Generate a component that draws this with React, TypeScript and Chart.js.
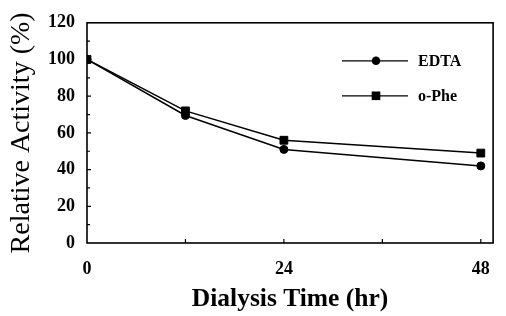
import { useEffect, useRef } from "react";
import { Chart, registerables } from "chart.js";

Chart.register(...registerables);

const times = [0, 12, 24, 48];
const edtaValues = [100, 69.5, 51, 42];
const opheValues = [100, 72, 56, 49];
const seriesLabels = ["EDTA", "o-Phe"];
const xTickValues = [0, 24, 48];
const xMarkValues = [12, 24, 36, 48];
const yTickValues = [0, 20, 40, 60, 80, 100, 120];
const yMarkValues = [10, 20, 30, 40, 50, 60, 70, 80, 90, 100, 110];
const xTitle = "Dialysis Time (hr)";
const yTitle = "Relative Activity (%)";

const FONT = "'Liberation Serif', 'Times New Roman', serif";

function drawMarker(ctx: CanvasRenderingContext2D, style: string, x: number, y: number) {
  ctx.save();
  ctx.fillStyle = "#000";
  if (style === "circle") {
    ctx.beginPath();
    ctx.arc(x, y, 4.3, 0, Math.PI * 2);
    ctx.fill();
  } else {
    ctx.fillRect(x - 4.3, y - 4.3, 8.6, 8.6);
  }
  ctx.restore();
}

const framePlugin = {
  id: "frame",
  afterDatasetsDraw(chart: any) {
    const { ctx, chartArea: ca, scales } = chart;
    const xs = scales.x;
    const ys = scales.y;
    ctx.save();
    ctx.strokeStyle = "#000";
    ctx.lineWidth = 1.6;
    ctx.strokeRect(ca.left, ca.top, ca.right - ca.left, ca.bottom - ca.top);
    ctx.lineWidth = 1.2;
    ctx.beginPath();
    for (const v of yMarkValues) {
      const py = ys.getPixelForValue(v);
      const len = v % 20 === 0 ? 4 : 3;
      ctx.moveTo(ca.left, py);
      ctx.lineTo(ca.left + len, py);
    }
    for (const v of xMarkValues) {
      const px = xs.getPixelForValue(v);
      ctx.moveTo(px, ca.bottom);
      ctx.lineTo(px, ca.bottom - 4);
    }
    ctx.stroke();

    // legend
    const styles = ["circle", "rect"];
    seriesLabels.forEach((label, i) => {
      const y = ca.top + 38 + i * 35;
      const x0 = ca.left + 255;
      const x1 = ca.left + 321;
      const mx = ca.left + 289;
      ctx.lineWidth = 1.3;
      ctx.beginPath();
      ctx.moveTo(x0, y);
      ctx.lineTo(x1, y);
      ctx.stroke();
      drawMarker(ctx, styles[i], mx, y);
      ctx.fillStyle = "#000";
      ctx.font = `bold 16px ${FONT}`;
      ctx.textBaseline = "middle";
      ctx.textAlign = "left";
      ctx.fillText(label, x1 + 10, y + 1);
    });
    ctx.restore();
  },
};

export default function App() {
  const ref = useRef<HTMLCanvasElement>(null);

  useEffect(() => {
    const canvas = ref.current;
    if (!canvas) return;
    const chart = new Chart(canvas, {
      type: "line",
      data: {
        datasets: [
          {
            label: seriesLabels[0],
            data: times.map((t, i) => ({ x: t, y: edtaValues[i] })),
            borderColor: "#000",
            backgroundColor: "#000",
            borderWidth: 1.5,
            pointStyle: "circle",
            pointRadius: 4,
            pointBorderWidth: 1,
            tension: 0,
          },
          {
            label: seriesLabels[1],
            data: times.map((t, i) => ({ x: t, y: opheValues[i] })),
            borderColor: "#000",
            backgroundColor: "#000",
            borderWidth: 1.5,
            pointStyle: "rect",
            pointRadius: 5.5,
            pointBorderWidth: 1,
            tension: 0,
          },
        ],
      },
      options: {
        animation: false,
        responsive: false,
        layout: { padding: { top: 19, right: 4, left: 0, bottom: 0 } },
        plugins: { legend: { display: false }, tooltip: { enabled: false } },
        scales: {
          x: {
            type: "linear",
            min: 0,
            max: 49.5,
            afterFit: (s: any) => {
              s.height = 73;
            },
            afterBuildTicks: (s: any) => {
              s.ticks = xTickValues.map((v) => ({ value: v }));
            },
            grid: { display: false, drawTicks: false },
            border: { display: false },
            ticks: {
              color: "#000",
              padding: 16,
              font: { family: FONT, size: 18, weight: "bold" },
              maxRotation: 0,
            },
            title: {
              display: true,
              text: xTitle,
              color: "#000",
              font: { family: FONT, size: 25.5, weight: "bold", lineHeight: 1 },
              padding: { top: 0, bottom: 4 },
            },
          },
          y: {
            min: 0,
            max: 120,
            afterFit: (s: any) => {
              s.width = 87;
            },
            afterBuildTicks: (s: any) => {
              s.ticks = yTickValues.map((v) => ({ value: v }));
            },
            grid: { display: false, drawTicks: false },
            border: { display: false },
            ticks: {
              color: "#000",
              padding: 12,
              font: { family: FONT, size: 18, weight: "bold" },
            },
            title: {
              display: true,
              text: yTitle,
              color: "#000",
              font: { family: FONT, size: 28, weight: "normal", lineHeight: 1 },
              padding: { top: 8, bottom: 0 },
            },
          },
        },
      },
      plugins: [framePlugin],
    });
    return () => chart.destroy();
  }, []);

  return (
    <div style={{ position: "absolute", left: 0, top: 0, width: 506, height: 316, background: "#fff" }}>
      <canvas ref={ref} width={506} height={316} style={{ display: "block" }} />
    </div>
  );
}
